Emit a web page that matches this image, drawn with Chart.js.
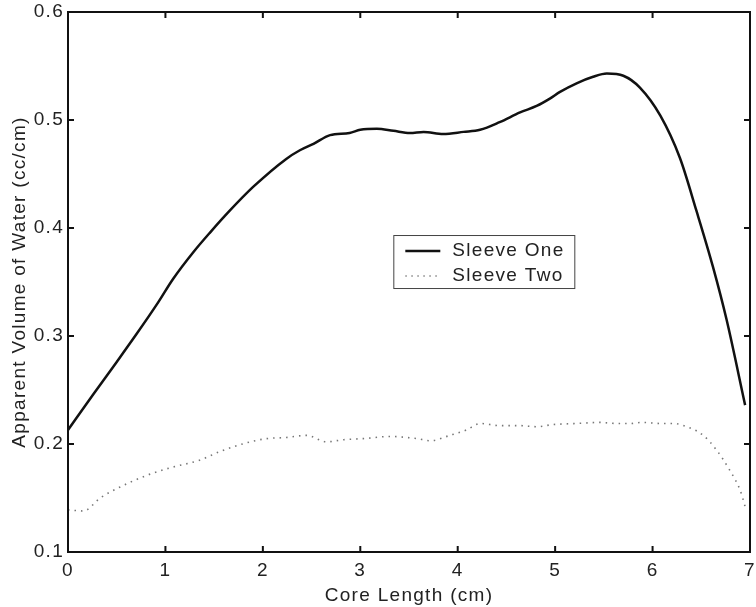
<!DOCTYPE html>
<html>
<head>
<meta charset="utf-8">
<script src="https://cdn.jsdelivr.net/npm/chart.js@4/dist/chart.umd.min.js"></script>
<style>
  html, body { margin: 0; padding: 0; background: #fff; }
  #wrap { width: 756px; height: 607px; }
</style>
</head>
<body>
<div id="wrap"><canvas id="c" width="756" height="607"></canvas></div>
<script>
// ---- data ----
const seriesNames = ['Sleeve One', 'Sleeve Two'];

const xOne = [0.0, 0.26, 0.5, 0.705, 0.91, 1.08, 1.29, 1.46, 1.66, 1.9, 2.24, 2.38, 2.52, 2.69, 2.89, 3.0, 3.17, 3.34, 3.51, 3.65, 3.85, 4.06, 4.23, 4.43, 4.64, 4.81, 4.95, 5.05, 5.22, 5.39, 5.53, 5.7, 5.87, 6.08, 6.28, 6.45, 6.62, 6.76, 6.95];
const yOne = [0.213, 0.246, 0.276, 0.302, 0.329, 0.353, 0.378, 0.396, 0.416, 0.438, 0.464, 0.472, 0.478, 0.486, 0.488, 0.491, 0.492, 0.49, 0.488, 0.489, 0.487, 0.489, 0.491, 0.498, 0.507, 0.513, 0.52, 0.526, 0.534, 0.54, 0.543, 0.541, 0.53, 0.504, 0.465, 0.416, 0.364, 0.315, 0.236];

const xTwo = [0.0, 0.16, 0.33, 0.53, 0.81, 1.05, 1.35, 1.56, 1.83, 2.04, 2.24, 2.45, 2.65, 2.83, 3.03, 3.31, 3.48, 3.58, 3.72, 3.92, 4.09, 4.23, 4.43, 4.64, 4.81, 4.98, 5.22, 5.46, 5.63, 5.77, 5.9, 6.08, 6.21, 6.38, 6.52, 6.66, 6.79, 6.9, 6.95];
const yTwo = [0.139, 0.138, 0.15, 0.16, 0.171, 0.178, 0.185, 0.193, 0.201, 0.205, 0.206, 0.208, 0.202, 0.204, 0.205, 0.207, 0.206, 0.205, 0.203, 0.208, 0.213, 0.219, 0.217, 0.217, 0.216, 0.218, 0.219, 0.22, 0.219, 0.219, 0.22, 0.219, 0.219, 0.215, 0.208, 0.194, 0.176, 0.157, 0.142];

const xTicks = [0, 1, 2, 3, 4, 5, 6, 7];
const yTicks = [0.1, 0.2, 0.3, 0.4, 0.5, 0.6];

const xTitle = 'Core Length (cm)';
const yTitle = 'Apparent Volume of Water (cc/cm)';

// ---- chart ----
const FONT = "'Liberation Sans', Arial, Helvetica, sans-serif";
const TEXT = '#222';
const FS = 19;
const SPACING = '1.3px';

const toPts = (xs, ys) => xs.map((x, i) => ({ x: x, y: ys[i] }));

const wideText = {
  id: 'wideText',
  beforeLayout(chart) { chart.ctx.letterSpacing = SPACING; },
  beforeDraw(chart) { chart.ctx.letterSpacing = SPACING; }
};

const frame = {
  id: 'frame',
  afterDatasetsDraw(chart) {
    const { ctx, chartArea: a, scales: { x, y } } = chart;
    ctx.save();
    ctx.strokeStyle = '#111';
    ctx.lineWidth = 2;
    ctx.strokeRect(a.left, a.top, a.right - a.left, a.bottom - a.top);
    const L = 6;
    ctx.beginPath();
    xTicks.forEach(v => {
      const px = x.getPixelForValue(v);
      ctx.moveTo(px, a.bottom); ctx.lineTo(px, a.bottom - L);
      ctx.moveTo(px, a.top); ctx.lineTo(px, a.top + L);
    });
    yTicks.forEach(v => {
      const py = y.getPixelForValue(v);
      ctx.moveTo(a.left, py); ctx.lineTo(a.left + L, py);
      ctx.moveTo(a.right, py); ctx.lineTo(a.right - L, py);
    });
    ctx.stroke();

    // legend box
    const w = a.right - a.left, h = a.bottom - a.top;
    const bx = a.left + 0.477 * w, by = a.top + 0.413 * h;
    const bw = 181, bh = 53;
    ctx.fillStyle = '#fff';
    ctx.fillRect(bx, by, bw, bh);
    ctx.strokeStyle = '#444';
    ctx.lineWidth = 1;
    ctx.strokeRect(bx + 0.5, by + 0.5, bw, bh);
    const rows = [by + 16, by + 41];
    ctx.lineWidth = 2.5;
    ctx.strokeStyle = '#111';
    ctx.setLineDash([]);
    ctx.beginPath(); ctx.moveTo(bx + 12, rows[0]); ctx.lineTo(bx + 47, rows[0]); ctx.stroke();
    ctx.lineWidth = 1.5;
    ctx.strokeStyle = '#888';
    ctx.setLineDash([1.5, 4.5]);
    ctx.beginPath(); ctx.moveTo(bx + 12, rows[1]); ctx.lineTo(bx + 47, rows[1]); ctx.stroke();
    ctx.setLineDash([]);
    ctx.fillStyle = TEXT;
    ctx.font = FS + 'px ' + FONT;
    ctx.letterSpacing = SPACING;
    ctx.textBaseline = 'middle';
    ctx.textAlign = 'left';
    ctx.fillText(seriesNames[0], bx + 59, rows[0]);
    ctx.fillText(seriesNames[1], bx + 59, rows[1]);
    ctx.restore();
  }
};

new Chart(document.getElementById('c'), {
  type: 'scatter',
  data: {
    datasets: [
      {
        label: seriesNames[0],
        data: toPts(xOne, yOne),
        showLine: true,
        borderColor: '#111',
        borderWidth: 2.5,
        pointRadius: 0,
        cubicInterpolationMode: 'monotone',
        fill: false
      },
      {
        label: seriesNames[1],
        data: toPts(xTwo, yTwo),
        showLine: true,
        borderColor: '#777',
        borderWidth: 1.6,
        borderDash: [1.5, 5],
        pointRadius: 0,
        cubicInterpolationMode: 'monotone',
        fill: false
      }
    ]
  },
  options: {
    responsive: false,
    animation: false,
    devicePixelRatio: 1,
    layout: { padding: { left: 0, right: 6, top: 12, bottom: 0 } },
    plugins: { legend: { display: false }, tooltip: { enabled: false } },
    scales: {
      x: {
        type: 'linear',
        min: 0, max: 7,
        afterBuildTicks: s => { s.ticks = xTicks.map(v => ({ value: v })); },
        afterFit: s => { s.height = 55; s.paddingLeft = 0; s.paddingRight = 0; },
        grid: { display: false, drawTicks: false },
        border: { display: false },
        ticks: { padding: 7, color: TEXT, font: { size: FS, family: FONT }, maxRotation: 0,
                 callback: v => String(v) },
        title: { display: true, text: xTitle, color: TEXT, font: { size: FS, family: FONT },
                 padding: { top: 0, bottom: 0 } }
      },
      y: {
        type: 'linear',
        min: 0.1, max: 0.6,
        afterBuildTicks: s => { s.ticks = yTicks.map(v => ({ value: v })); },
        afterFit: s => { s.width = 68; s.paddingTop = 0; s.paddingBottom = 0; },
        grid: { display: false, drawTicks: false },
        border: { display: false },
        ticks: { padding: 4, color: TEXT, font: { size: FS, family: FONT },
                 callback: v => Number(v).toFixed(1) },
        title: { display: true, text: yTitle, color: TEXT, font: { size: FS, family: FONT },
                 padding: { top: 8, bottom: 0 } }
      }
    }
  },
  plugins: [wideText, frame]
});
</script>
</body>
</html>
